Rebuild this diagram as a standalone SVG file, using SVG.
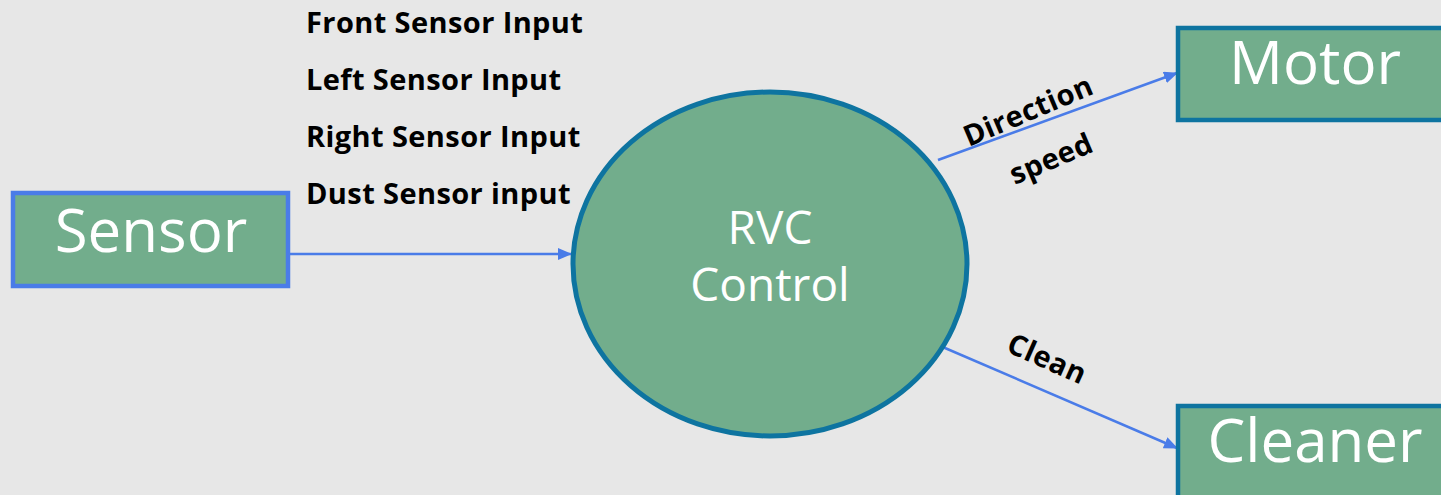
<svg xmlns="http://www.w3.org/2000/svg" width="1441" height="495" viewBox="0 0 1441 495">
<defs>
<marker id="ah" viewBox="0 0 14 12" refX="13" refY="6" markerWidth="14" markerHeight="12" markerUnits="userSpaceOnUse" orient="auto">
<path d="M0,0 L14,6 L0,12 z" fill="#4A7CE8"/>
</marker>
<style>
.box{fill:#72AD8C;stroke:#0E74A0;stroke-width:4.5}
.big{font-family:"Open Sans","Noto Sans",sans-serif;fill:#FFFFFF;text-anchor:middle}
.lbl{font-family:"Open Sans","Noto Sans",sans-serif;font-weight:bold;font-size:29px;letter-spacing:0.4px;fill:#000000}
.conn{stroke:#4A7CE8;stroke-width:2.5;fill:none}
</style>
</defs>
<rect width="1441" height="495" fill="#E7E7E7"/>
<g id="connectors">
<line class="conn" x1="289" y1="254" x2="571" y2="254" marker-end="url(#ah)"/>
<line class="conn" x1="938" y1="160" x2="1177" y2="73" marker-end="url(#ah)"/>
<line class="conn" x1="938" y1="345" x2="1177" y2="448" marker-end="url(#ah)"/>
</g>
<g id="labels">
<text class="lbl" x="306" y="33">Front Sensor Input</text>
<text class="lbl" x="306" y="90">Left Sensor Input</text>
<text class="lbl" x="306" y="147">Right Sensor Input</text>
<text class="lbl" x="306" y="204">Dust Sensor input</text>
<text class="lbl" transform="translate(1032,120) rotate(-23)" text-anchor="middle">Direction</text>
<text class="lbl" transform="translate(1055,168) rotate(-23)" text-anchor="middle">speed</text>
<text class="lbl" transform="translate(1043,368) rotate(24)" text-anchor="middle">Clean</text>
</g>
<g id="sensor">
<rect class="box" x="13" y="193" width="275" height="93" style="stroke:#4A7CE8"/>
<text class="big" x="151" y="252" font-size="60">Sensor</text>
</g>
<g id="rvc">
<ellipse cx="770" cy="264" rx="197" ry="172" fill="#72AD8C" stroke="#0E74A0" stroke-width="5"/>
<text class="big" x="770" y="244" font-size="46">RVC</text>
<text class="big" x="770" y="301" font-size="46">Control</text>
</g>
<g id="motor">
<rect class="box" x="1178" y="28" width="280" height="92"/>
<text class="big" x="1315" y="84" font-size="60">Motor</text>
</g>
<g id="cleaner">
<rect class="box" x="1178" y="406" width="280" height="100"/>
<text class="big" x="1315" y="462" font-size="60">Cleaner</text>
</g>
</svg>
